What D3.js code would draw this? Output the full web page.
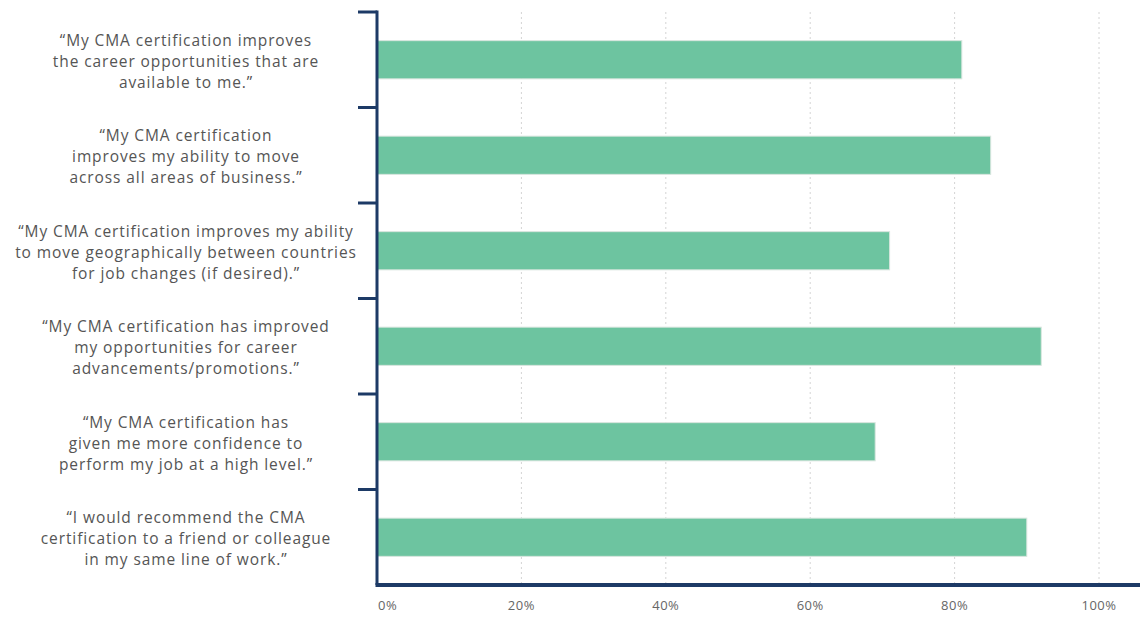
<!DOCTYPE html>
<html>
<head>
<meta charset="utf-8">
<script src="https://cdn.jsdelivr.net/npm/d3@7"></script>
<style>
  body { margin: 0; background: #fff; }
  svg { display: block; }
</style>
</head>
<body>
<div id="vis"></div>
<script>
'use strict'

// survey statements, one per bar (top to bottom)
const statements = [
  ["“My CMA certification improves", "the career opportunities that are", "available to me.”"],
  ["“My CMA certification", "improves my ability to move", "across all areas of business.”"],
  ["“My CMA certification improves my ability", "to move geographically between countries", "for job changes (if desired).”"],
  ["“My CMA certification has improved", "my opportunities for career", "advancements/promotions.”"],
  ["“My CMA certification has", "given me more confidence to", "perform my job at a high level.”"],
  ["“I would recommend the CMA", "certification to a friend or colleague", "in my same line of work.”"]
]
const agreeShare = [0.81, 0.85, 0.71, 0.92, 0.69, 0.90]
const tickValues = [0, 0.2, 0.4, 0.6, 0.8, 1]

function wrapper(){
  let width = 1140
  let height = 618

  let svg = d3.select("#vis").append("svg")
    .attr("width", width)
    .attr("height", height)

  let axisX = 377
  let topY = 12
  let bottomY = 585

  let x = d3.scaleLinear().domain([0, 1]).range([377, 1099])
  let y = d3.scaleBand()
    .domain(d3.range(statements.length))
    .range([topY, bottomY])
    .paddingInner(0.6)
    .paddingOuter(0.3)

  // dotted gridlines
  svg.append("g").selectAll("line")
    .data(tickValues.slice(1))
    .join("line")
    .attr("x1", d => x(d)).attr("x2", d => x(d))
    .attr("y1", topY).attr("y2", bottomY)
    .attr("stroke", "#d4d4d4")
    .attr("stroke-width", 1)
    .attr("stroke-dasharray", "2,3")

  // bars
  svg.append("g").selectAll("rect")
    .data(agreeShare)
    .join("rect")
    .attr("x", axisX)
    .attr("y", (d, i) => y(i))
    .attr("width", d => x(d) - axisX)
    .attr("height", y.bandwidth())
    .attr("fill", "#6dc4a0")
    .attr("stroke", "#d9e6df")
    .attr("stroke-width", 1)

  // left axis with ticks between categories
  let navy = "#1d3a66"
  let step = y.step()
  let boundaries = d3.range(statements.length).map(i => topY + i * step)
  svg.append("g").selectAll("line")
    .data(boundaries)
    .join("line")
    .attr("x1", 358).attr("x2", axisX)
    .attr("y1", d => d).attr("y2", d => d)
    .attr("stroke", navy)
    .attr("stroke-width", 3)

  svg.append("line")
    .attr("x1", axisX).attr("x2", axisX)
    .attr("y1", topY - 1.5).attr("y2", bottomY)
    .attr("stroke", navy)
    .attr("stroke-width", 3)

  svg.append("line")
    .attr("x1", axisX - 1.5).attr("x2", width)
    .attr("y1", bottomY).attr("y2", bottomY)
    .attr("stroke", navy)
    .attr("stroke-width", 4)

  // category labels, one text per line
  let labelLines = []
  statements.forEach(function(lines, i){
    lines.forEach(function(t, j){
      labelLines.push({"text" : t, "row" : i, "line" : j})
    })
  })

  svg.append("g")
    .attr("font-family", "'Open Sans', sans-serif")
    .attr("font-size", 15.5)
    .attr("letter-spacing", 0.9)
    .attr("fill", "#555")
    .attr("text-anchor", "middle")
    .selectAll("text")
    .data(labelLines)
    .join("text")
    .attr("x", 186)
    .attr("y", d => y(d.row) + y.bandwidth() / 2 + 7 + (d.line - 1) * 21)
    .text(d => d.text)

  // x tick labels
  svg.append("g")
    .attr("font-family", "'Open Sans', sans-serif")
    .attr("font-size", 13)
    .attr("letter-spacing", 0.5)
    .attr("fill", "#666")
    .selectAll("text")
    .data(tickValues)
    .join("text")
    .attr("x", d => d == 0 ? x(d) + 1 : x(d))
    .attr("y", 610)
    .attr("text-anchor", d => d == 0 ? "start" : "middle")
    .text(d3.format(".0%"))
}

wrapper()
</script>
</body>
</html>
